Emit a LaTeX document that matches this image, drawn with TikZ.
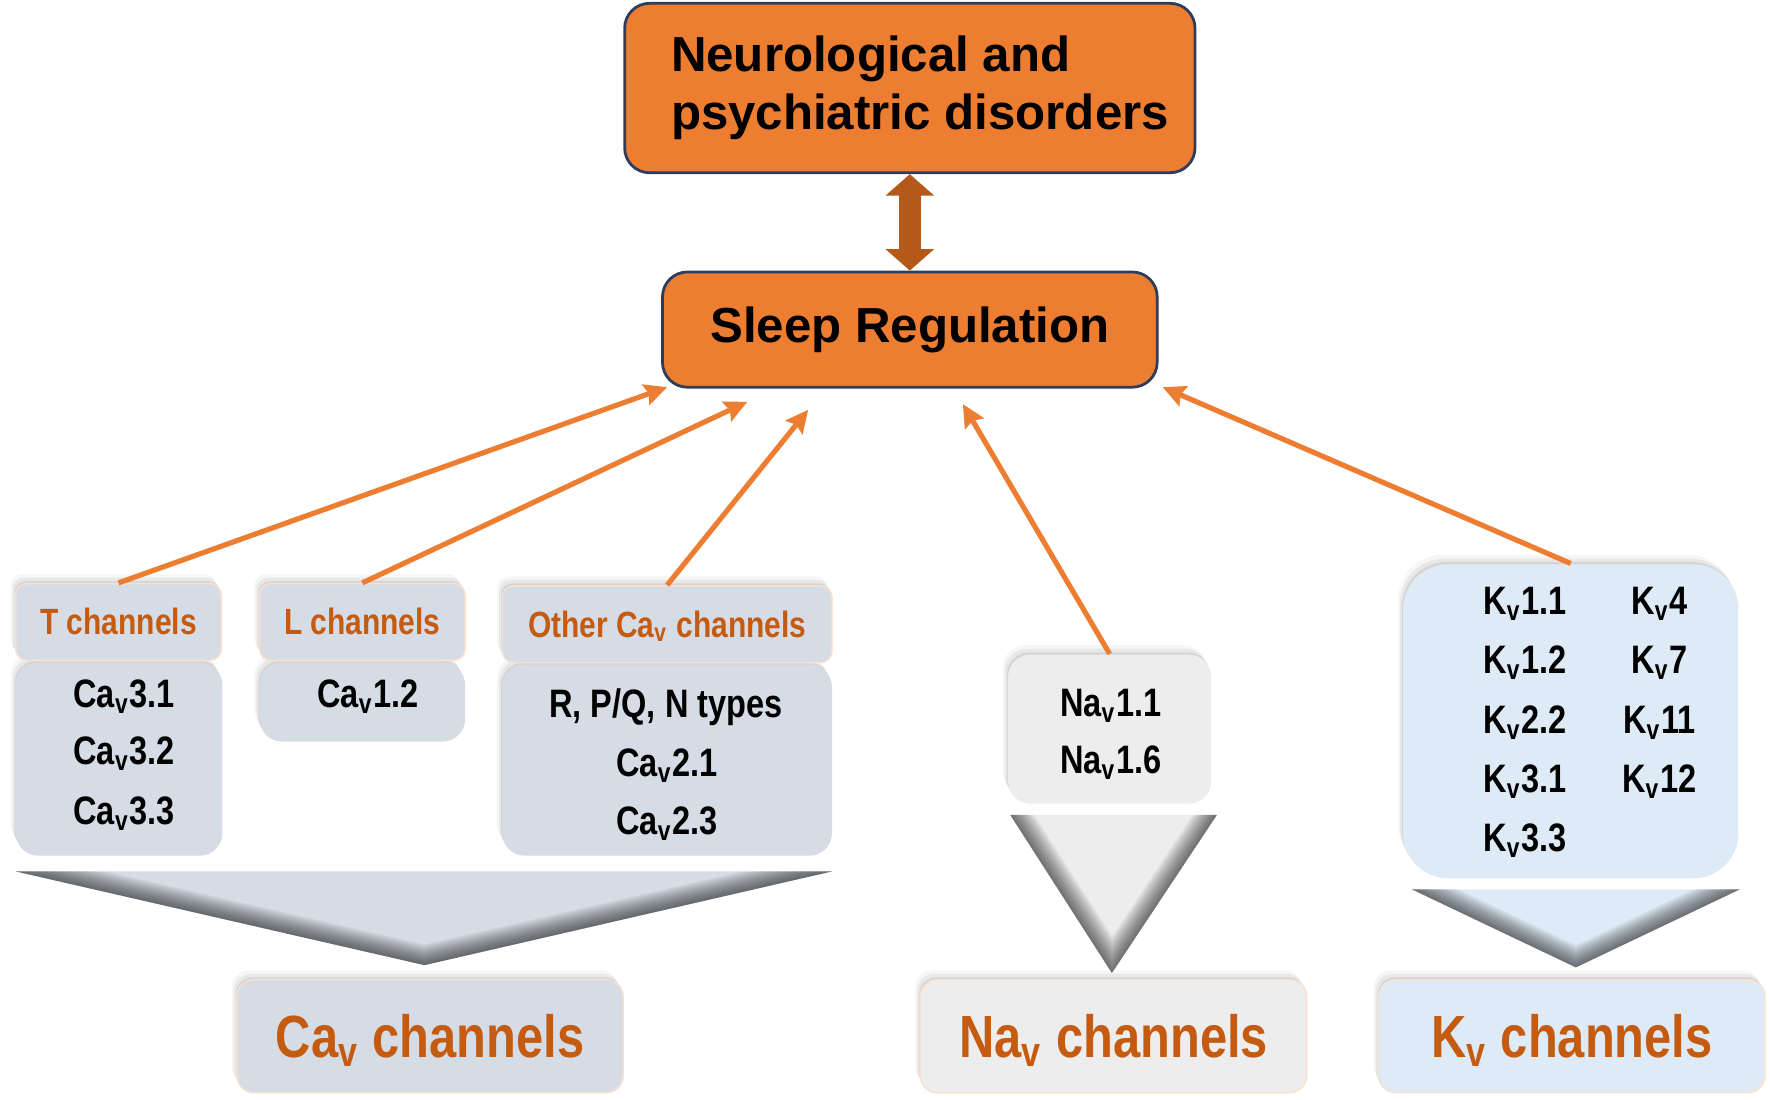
\documentclass[tikz,border=0pt]{standalone}
\usepackage{fontspec}
\setmainfont{Liberation Sans}
\newfontfamily\narrowsf[FakeStretch=0.82]{Liberation Sans}
\usetikzlibrary{arrows.meta,shadows}
\definecolor{orng}{HTML}{ED7D31}
\definecolor{dkorng}{HTML}{C55A11}
\definecolor{navy}{HTML}{2F3D5C}
\definecolor{slate}{HTML}{D6DCE5}
\definecolor{ltgrey}{HTML}{EDEDED}
\definecolor{ltblue}{HTML}{DEEBF7}
\definecolor{peach}{HTML}{FBE0CC}
\definecolor{brwn}{HTML}{B5591B}
\tikzset{
  bigbox/.style={draw=navy, line width=0.7pt, fill=orng, rounded corners=0.22cm, font=\bfseries\fontsize{12.4}{14.5}\selectfont},
  soft/.style={drop shadow={shadow xshift=-0.3pt, shadow yshift=0.6pt, opacity=.18},
               drop shadow={shadow xshift=-0.8pt, shadow yshift=1.5pt, opacity=.12},
               drop shadow={shadow xshift=-1.3pt, shadow yshift=2.4pt, opacity=.07}},
  head/.style={soft, draw=peach, line width=0.35pt, fill=slate, rounded corners=0.1cm, text=dkorng,
               font=\narrowsf\bfseries\fontsize{9.2}{11}\selectfont, minimum height=0.68cm, text height=0.23cm, text depth=0cm},
  body/.style={soft, rounded corners=0.2cm},
  item/.style={font=\narrowsf\bfseries\fontsize{10}{12}\selectfont, text height=0.25cm, text depth=0cm, inner sep=0pt},
  family/.style={soft, draw=peach, line width=0.35pt, rounded corners=0.15cm, minimum width=3.42cm, minimum height=1cm,
               text=dkorng, font=\narrowsf\bfseries\fontsize{15}{18}\selectfont, text height=0.38cm, text depth=0cm},
  arr/.style={draw=orng, line width=1.3pt, -{Stealth[length=0.2cm, width=0.19cm, inset=0.03cm]}},
  dbl/.style={draw=brwn, line width=0.2cm, {Triangle[width=0.42cm,length=0.19cm]}-{Triangle[width=0.42cm,length=0.19cm]}}
}
\begin{document}
\begin{tikzpicture}[x=0.01cm, y=-0.01cm]
          \useasboundingbox (0,0) rectangle (1568,974);
          \node[bigbox, minimum width=5.05cm, minimum height=1.5cm, align=left] (dis) at (806,78){\hspace*{0.18cm}Neurological and\\\hspace*{0.18cm}psychiatric disorders};
          \node[bigbox, minimum width=4.38cm, minimum height=1.02cm, text height=0.31cm, text depth=0.08cm] (sleep) at (806,292){Sleep Regulation};
          \draw[dbl](dis) -- (sleep);
          \node[body, fill=slate, minimum width=1.83cm, minimum height=1.71cm] (tbody) at (105.5,672.5){};
          \node[head, minimum width=1.82cm] (tch) at (105,551){T channels};
          \node[item] (cav31) at (110,614){Ca\textsubscript{v}3.1};
          \node[item] (cav32) at (110,665){Ca\textsubscript{v}3.2};
          \node[item] (cav33) at (110,718){Ca\textsubscript{v}3.3};
          \node[body, fill=slate, minimum width=1.82cm, minimum height=0.7cm] (lbody) at (321,622){};
          \node[head, minimum width=1.82cm] (lch) at (321,551){L channels};
          \node[item] (cav12) at (326,614){Ca\textsubscript{v}1.2};
          \node[body, fill=slate, minimum width=2.92cm, minimum height=1.69cm] (obody) at (591,673.5){};
          \node[head, minimum width=2.92cm] (och) at (591,553){Other Ca\textsubscript{v} channels};
          \node[item] (rpqn) at (590,623){R, P/Q, N types};
          \node[item] (cav21) at (591,675){Ca\textsubscript{v}2.1};
          \node[item] (cav23) at (591,727){Ca\textsubscript{v}2.3};
          \node[body, fill=ltgrey, minimum width=1.8cm, minimum height=1.32cm] (nbox) at (983,646){};
          \node[item] (nav11) at (984,622){Na\textsubscript{v}1.1};
          \node[item] (nav16) at (984,673){Na\textsubscript{v}1.6};
          \node[body, fill=ltblue, rounded corners=0.4cm, minimum width=2.97cm, minimum height=2.78cm] (kbox) at (1391.5,639){};
          \foreach \ch [count=\i] in {1.1,1.2,2.2,3.1,3.3}
            \node[item] (ka\i) at (1351,{532+52.5*(\i-1)}){K\textsubscript{v}\ch};
          \foreach \ch [count=\i] in {4,7,11,12}
            \node[item] (kb\i) at (1470,{532+52.5*(\i-1)}){K\textsubscript{v}\ch};
          \foreach \ax/\bx/\ty/\cx/\cy/\col in {14/737/772/376/855/slate, 895/1078/722/985/862/ltgrey, 1251/1541/788/1396/857/ltblue}{
            \begin{scope}
              \clip (\ax,\ty) -- (\bx,\ty) -- (\cx,\cy) -- cycle;
              \fill[\col] (\ax,\ty) -- (\bx,\ty) -- (\cx,\cy) -- cycle;
              \foreach \w in {10,9,...,1}
                \draw[black, opacity=.065, line width=\w pt] (\ax,\ty) -- (\cx,\cy) -- (\bx,\ty);
            \end{scope}
          }
          \node[family, fill=slate] (cafam) at (381,918){Ca\textsubscript{v} channels};
          \node[family, fill=ltgrey] (nafam) at (986.5,918){Na\textsubscript{v} channels};
          \node[family, fill=ltblue] (kfam) at (1392.5,918){K\textsubscript{v} channels};
          \coordinate (e1) at (591,343);
          \coordinate (e2) at (662,356);
          \coordinate (e3) at (716,363);
          \coordinate (e4) at (853,358);
          \coordinate (e5) at (1030,343);
          \draw[arr](tch.north) -- (e1);
          \draw[arr](lch.north) -- (e2);
          \draw[arr](och.north) -- (e3);
          \draw[arr](nbox.north) -- (e4);
          \draw[arr](kbox.north) -- (e5);
\end{tikzpicture}
\end{document}
